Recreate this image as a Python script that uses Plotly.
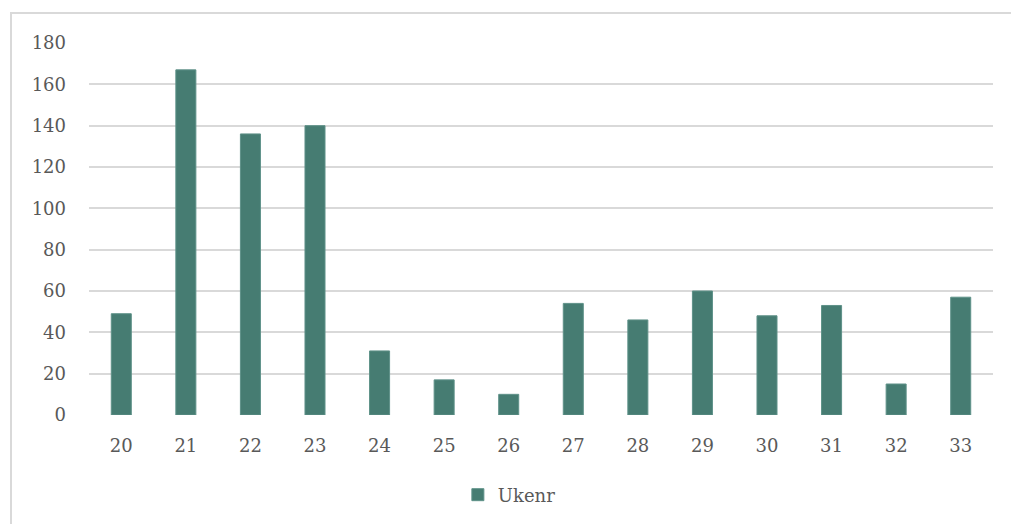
import plotly.graph_objects as go

weeks = ["20", "21", "22", "23", "24", "25", "26", "27", "28", "29", "30", "31", "32", "33"]
counts = [49, 167, 136, 140, 31, 17, 10, 54, 46, 60, 48, 53, 15, 57]
series_name = "Ukenr"
y_ticks = [0, 20, 40, 60, 80, 100, 120, 140, 160, 180]

W, H = 1011, 524
L, R, T, B = 89, 18, 43, 109
pw, ph = W - L - R, H - T - B

fig = go.Figure()
fig.add_trace(go.Bar(
    x=weeks, y=counts, name=series_name,
    marker=dict(color="#467C72", line=dict(color="#5E9188", width=1)),
    width=0.31,
))

font_family = "'DejaVu Serif', Georgia, serif"

fig.update_layout(
    width=W, height=H,
    margin=dict(l=L, r=R, t=T, b=B, autoexpand=False),
    paper_bgcolor="white", plot_bgcolor="white",
    font=dict(family=font_family, size=18, color="#595959"),
    showlegend=True,
    legend=dict(orientation="h", x=0.465, xanchor="center", y=-0.215, yanchor="middle",
                font=dict(size=18, color="#595959"), itemwidth=30),
    xaxis=dict(type="category", showgrid=False, showline=False, zeroline=False,
               ticks="", ticklabelstandoff=18, tickfont=dict(size=18)),
    yaxis=dict(range=[0, 180], tickvals=y_ticks, showgrid=True, gridcolor="#D9D9D9",
               gridwidth=2, zeroline=False, showline=False, ticks="",
               ticklabelstandoff=22, tickfont=dict(size=18)),
)

# outer chart frame (extends past the visible window on right and bottom)
fig.add_shape(type="rect", xref="paper", yref="paper",
              x0=(11 - L) / pw, x1=(1030 - L) / pw,
              y0=(H - B - 540) / ph, y1=(H - B - 13) / ph,
              line=dict(color="#D9D9D9", width=2), fillcolor="rgba(0,0,0,0)", layer="below")

fig.write_html("out.html", config={"displayModeBar": False},
               post_script="document.body.style.margin='0';document.body.style.overflow='hidden';")
